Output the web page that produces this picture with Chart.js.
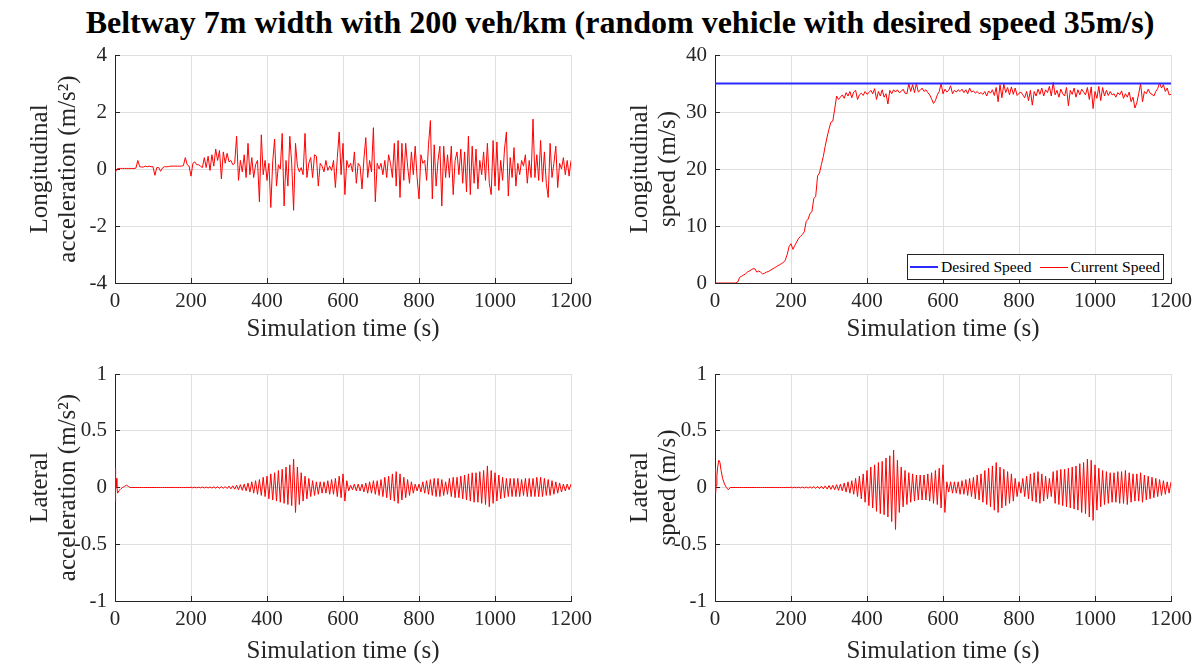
<!DOCTYPE html>
<html>
<head>
<meta charset="utf-8">
<title>Beltway 7m width</title>
<script src="https://cdn.jsdelivr.net/npm/chart.js@4.4.1/dist/chart.umd.min.js"></script>
<style>
  html, body { margin: 0; padding: 0; background: #fff; overflow: hidden; }
  body { width: 1195px; height: 665px; position: relative; font-family: "Liberation Serif", "Times New Roman", serif; }
  #title { position: absolute; left: 0; width: 1240px; top: 4px; text-align: center; font-weight: bold; font-size: 32px; line-height: 36px; color: #000; white-space: nowrap; }
  canvas { position: absolute; }
  #legend { position: absolute; left: 907px; top: 254px; height: 24px; border: 1px solid #262626; background: #fff; display: flex; align-items: center; font-size: 15.6px; color: #000; white-space: nowrap; padding-right: 3px; }
  #legend .item { display: flex; align-items: center; }
  #legend .swatch { display: inline-block; width: 28px; margin: 0 3px 0 2px; }
  #legend .item + .item { margin-left: 6px; }
</style>
</head>
<body>
<div id="title">Beltway 7m width with 200 veh/km (random vehicle with desired speed 35m/s)</div>
<canvas id="accLon" width="607" height="333" style="left:0px;top:25px"></canvas>
<canvas id="speedLon" width="607" height="333" style="left:600px;top:25px"></canvas>
<canvas id="accLat" width="607" height="332" style="left:0px;top:344px"></canvas>
<canvas id="speedLat" width="607" height="332" style="left:600px;top:344px"></canvas>
<div id="legend"></div>
<script>
// sample times: uniform series start at t0 and step dt seconds
const sampleStep = 5;
const xTicks = [0, 200, 400, 600, 800, 1000, 1200];

// longitudinal acceleration (m/s^2), 0..1200 s every 5 s
const accLonValues = [
  -0.15, 0.0, 0.02, 0.02, 0.02, 0.02, 0.02, 0.02, 0.02, 0.02,
  0.02, 0.03, 0.3, 0.08, 0.07, 0.07, 0.1, 0.08, 0.1, 0.08,
  0.08, -0.22, 0.05, 0.05, -0.08, 0.04, 0.08, 0.08, 0.08, 0.1,
  0.1, 0.1, 0.1, 0.1, 0.1, 0.1, 0.12, 0.4, 0.15, 0.1,
  -0.25, 0.2, 0.25, 0.15, 0.15, 0.1, 0.05, 0.4, 0.05, 0.45,
  -0.05, 0.5, 0.1, 0.7, 0.3, 0.65, -0.35, 0.6, 0.2, 0.55,
  0.25, 0.3, 0.15, 0.2, 1.15, -0.4, 0.3, -0.1, 0.5, -0.3,
  0.9, -0.2, 0.4, -0.3, 0.15, 0.3, -1.15, 1.2, -0.2, 0.3,
  -0.4, 0.2, -1.35, 0.25, 1.05, -0.6, 0.15, 0.0, 1.25, -1.3,
  0.3, -0.6, 1.15, 0.2, -1.45, 0.9, 0.1, -0.1, 0.05, -0.2,
  1.25, -0.3, 0.2, 0.4, -0.3, 0.5, 0.45, -0.6, 0.2, 0.1,
  -0.1, 0.3, -0.05, 0.1, -0.05, 0.3, -0.65, 0.4, 1.3, -0.2,
  0.9, -0.9, 0.3, 0.05, 0.2, -0.1, 0.6, -0.5, 0.2, 0.1,
  -0.7, 0.35, 1.1, -0.3, 0.3, -0.1, 1.45, -1.15, 0.2, 0.0,
  0.2, -0.2, 0.3, -0.3, 0.5, 0.2, -0.3, 0.9, -0.6, 1.0,
  -1.0, 0.9, -0.4, 0.9, 0.1, -0.5, 0.6, -0.2, 0.8, -0.3,
  -1.05, 0.5, 0.2, 0.3, -0.4, 0.85, 1.7, -1.05, 0.85, -0.6,
  0.3, 0.8, -1.3, 0.8, -0.3, 0.5, -0.3, 0.8, -0.9, 0.3,
  0.6, -0.2, 0.7, -0.5, 0.6, -0.8, 1.15, -0.9, 0.8, -0.5,
  0.7, -0.7, 0.3, -0.2, 0.6, -0.4, 0.9, -0.5, -0.9, 1.0,
  -0.6, 0.95, -0.75, 0.3, -0.4, 0.7, 1.3, -0.95, 0.4, -0.3,
  0.75, -0.6, 0.2, -0.2, 0.3, 0.1, 0.5, -0.5, 0.3, -0.3,
  1.75, -0.3, 0.5, -0.4, 1.0, -0.45, 0.6, -0.5, -1.0, 0.9,
  -0.3, 0.2, 0.8, -0.65, 0.2, 0.0, 0.4, -0.2, 0.3, -0.25,
  0.3
];

// longitudinal speed (m/s), 0..1200 s every 5 s
const speedValues = [
  0, 0, 0, 0, 0, 0, 0, 0, 0, 0,
  0, 0, 0.2, 1.0, 1.2, 1.4, 1.6, 1.9, 2.1, 2.3,
  2.5, 2.5, 1.9, 2.1, 1.9, 1.6, 1.7, 1.9, 2.0, 2.2,
  2.4, 2.6, 2.8, 3.0, 3.2, 3.4, 3.6, 4.0, 5.0, 6.4,
  6.9, 5.9, 6.6, 7.2, 7.8, 8.2, 8.5, 9.0, 10.8, 11.2,
  12.2, 12.5, 14.8, 15.2, 18.8, 19.3, 20.8, 22.2, 24.0, 25.6,
  27.0, 28.2, 28.4, 30.5, 32.8, 32.2, 32.6, 33.0, 32.4, 33.4,
  32.8, 33.6, 32.5, 33.5, 33.8, 32.2, 33.0, 33.3, 32.9, 33.6,
  33.1, 33.4, 33.8, 33.2, 34.1, 32.2, 33.6, 32.8, 33.9, 32.6,
  33.2, 31.4, 33.8, 33.2, 33.9, 33.5, 33.9, 33.4, 33.6, 34.0,
  33.3, 33.2, 35.0, 33.6, 34.8, 33.4, 35.0, 33.5, 33.8, 34.2,
  33.6, 33.9, 33.4, 33.0, 32.3, 31.5, 32.0, 33.0, 33.6, 35.0,
  33.2, 34.0, 33.5, 33.8, 34.6, 33.2, 33.8, 33.5, 33.9, 33.6,
  34.0, 33.4, 33.9, 33.2, 34.2, 33.5, 33.7, 33.3, 33.6, 33.2,
  33.4, 33.1, 33.6, 32.8, 33.7, 33.3, 33.9, 32.9, 34.3, 31.8,
  34.8, 32.5, 34.9, 33.4, 34.3, 33.0, 34.4, 33.1, 34.2, 32.9,
  33.3, 33.5, 33.0, 32.5, 33.6, 32.0, 33.8, 31.2, 33.6, 32.8,
  34.0, 33.1, 34.2, 32.8, 33.9, 33.4, 34.5, 32.8, 35.2, 33.0,
  33.8, 32.6, 34.0, 33.2, 32.8, 34.3, 31.1, 33.8, 33.1, 34.2,
  32.6, 33.9, 33.0, 34.0, 33.5, 33.0, 34.3, 32.2, 34.4, 30.6,
  33.6, 32.4, 34.5, 32.0, 34.3, 32.8, 33.8, 32.9, 33.6, 33.0,
  33.2, 32.6, 33.4, 33.0, 33.7, 32.4, 33.2, 32.6, 33.5, 31.8,
  32.6, 30.7, 31.6, 33.2, 35.0, 31.8, 33.6, 33.2, 34.0, 33.3,
  33.1, 32.8, 33.6, 34.1, 35.1, 34.2, 34.8, 33.6, 34.2, 33.0,
  33.1
];
const desiredSpeed = 35;

// lateral start transient (explicit times, s)
const latStartTime = [0, 1, 2, 3, 5, 7, 10, 13, 16, 20, 25, 30, 35, 40, 45];
const latAccStart = [0.17, -0.12, 0.02, 0.08, 0.0, -0.05, -0.03, -0.02, -0.01, 0.0, 0.01, 0.02, 0.01, 0.0, 0.0];
const latSpeedStart = [0.0, 0.17, -0.05, 0.02, 0.1, 0.18, 0.24, 0.22, 0.15, 0.08, 0.03, 0.0, -0.02, 0.0, 0.0];

// lateral oscillation, 50..1200 s every 5 s
const latWaveStart = 50;
const latAccWave = [
  0, 0, 0, 0, 0, 0, 0, 0, 0, 0,
  0, 0, 0, 0, 0, 0, 0, 0, 0, 0,
  0.001, -0.001, 0.001, -0.001, 0.001, -0.001, 0.001, -0.001, 0.001, -0.001,
  0.003, -0.003, 0.003, -0.003, 0.003, -0.003, 0.004, -0.004, 0.004, -0.004,
  0.005, -0.005, 0.006, -0.006, 0.007, -0.007, 0.008, -0.008, 0.009, -0.009,
  0.012, -0.012, 0.015, -0.015, 0.02, -0.02, 0.025, -0.025, 0.03, -0.03,
  0.04, -0.04, 0.05, -0.05, 0.06, -0.06, 0.07, -0.07, 0.09, -0.08,
  0.1, -0.1, 0.12, -0.11, 0.13, -0.12, 0.15, -0.13, 0.16, -0.14,
  0.18, -0.15, 0.2, -0.16, 0.25, -0.22, 0.18, -0.15, 0.13, -0.12,
  0.1, -0.1, 0.08, -0.08, 0.06, -0.07, 0.05, -0.06, 0.05, -0.05,
  0.05, -0.05, 0.06, -0.06, 0.07, -0.06, 0.08, -0.08, 0.1, -0.09,
  0.12, -0.12, 0.06, -0.03, 0.02, -0.02, 0.03, -0.03, 0.03, -0.03,
  0.03, -0.04, 0.04, -0.05, 0.05, -0.05, 0.06, -0.06, 0.06, -0.07,
  0.07, -0.08, 0.09, -0.09, 0.1, -0.11, 0.12, -0.12, 0.14, -0.14,
  0.12, -0.11, 0.09, -0.09, 0.07, -0.07, 0.05, -0.05, 0.03, -0.03,
  0.03, -0.04, 0.05, -0.05, 0.06, -0.06, 0.07, -0.07, 0.08, -0.08,
  0.08, -0.08, 0.07, -0.07, 0.05, -0.06, 0.08, -0.08, 0.09, -0.09,
  0.09, -0.09, 0.1, -0.1, 0.11, -0.11, 0.12, -0.12, 0.13, -0.13,
  0.13, -0.13, 0.14, -0.14, 0.15, -0.15, 0.19, -0.17, 0.15, -0.14,
  0.13, -0.12, 0.11, -0.1, 0.09, -0.09, 0.08, -0.08, 0.08, -0.08,
  0.08, -0.08, 0.08, -0.08, 0.07, -0.07, 0.08, -0.08, 0.08, -0.08,
  0.08, -0.08, 0.09, -0.08, 0.09, -0.08, 0.08, -0.07, 0.07, -0.07,
  0.06, -0.06, 0.05, -0.05, 0.04, -0.04, 0.03, -0.03, 0.03, -0.02,
  0.03
];
const latSpeedWave = [
  0, 0, 0, 0, 0, 0, 0, 0, 0, 0,
  0, 0, 0, 0, 0, 0, 0, 0, 0, 0,
  0.001, -0.001, 0.001, -0.001, 0.001, -0.001, 0.001, -0.001, 0.001, -0.001,
  0.003, -0.003, 0.003, -0.003, 0.003, -0.003, 0.004, -0.004, 0.005, -0.005,
  0.006, -0.006, 0.008, -0.008, 0.01, -0.01, 0.012, -0.012, 0.014, -0.014,
  0.017, -0.017, 0.02, -0.02, 0.025, -0.025, 0.03, -0.03, 0.04, -0.04,
  0.05, -0.05, 0.06, -0.06, 0.08, -0.08, 0.1, -0.1, 0.12, -0.13,
  0.15, -0.16, 0.18, -0.18, 0.2, -0.21, 0.22, -0.23, 0.23, -0.24,
  0.26, -0.26, 0.28, -0.3, 0.33, -0.37, 0.24, -0.22, 0.18, -0.17,
  0.15, -0.15, 0.13, -0.13, 0.12, -0.12, 0.11, -0.11, 0.11, -0.11,
  0.11, -0.11, 0.12, -0.12, 0.13, -0.14, 0.15, -0.15, 0.17, -0.18,
  0.2, -0.22, 0.05, -0.04, 0.05, -0.05, 0.05, -0.05, 0.05, -0.06,
  0.06, -0.06, 0.07, -0.07, 0.08, -0.08, 0.09, -0.1, 0.11, -0.11,
  0.12, -0.13, 0.15, -0.15, 0.17, -0.17, 0.19, -0.2, 0.22, -0.22,
  0.18, -0.18, 0.16, -0.16, 0.14, -0.14, 0.12, -0.12, 0.08, -0.08,
  0.05, -0.05, 0.08, -0.08, 0.1, -0.1, 0.12, -0.12, 0.13, -0.13,
  0.14, -0.14, 0.12, -0.12, 0.1, -0.1, 0.08, -0.08, 0.14, -0.14,
  0.15, -0.15, 0.16, -0.16, 0.16, -0.17, 0.17, -0.18, 0.18, -0.19,
  0.19, -0.2, 0.21, -0.22, 0.22, -0.23, 0.25, -0.26, 0.24, -0.29,
  0.2, -0.2, 0.17, -0.17, 0.15, -0.15, 0.14, -0.14, 0.13, -0.13,
  0.13, -0.13, 0.14, -0.14, 0.14, -0.14, 0.15, -0.15, 0.13, -0.13,
  0.12, -0.12, 0.12, -0.12, 0.13, -0.13, 0.11, -0.11, 0.1, -0.1,
  0.09, -0.09, 0.08, -0.08, 0.07, -0.07, 0.06, -0.06, 0.05, -0.05,
  0.05
];

const FONT = '"Liberation Serif", "Times New Roman", serif';
const AXIS_COLOR = '#262626';
const GRID_COLOR = '#dfdfdf';

function uniform(t0, values) {
  return values.map((v, i) => ({ x: t0 + i * sampleStep, y: v }));
}
function paired(times, values) {
  return times.map((t, i) => ({ x: t, y: values[i] }));
}

function axisBase() {
  return {
    border: { display: true, color: AXIS_COLOR, width: 1 },
    grid: { color: GRID_COLOR, lineWidth: 1, drawTicks: true, tickLength: -5, tickColor: AXIS_COLOR, tickWidth: 1 },
  };
}

// plain tick text, no thousands separator or forced decimals
const plainTick = (v) => String(v);

function makeChart(id, datasets, yRange, yTitle, xTitlePad) {
  return new Chart(document.getElementById(id), {
    type: 'line',
    data: { datasets: datasets },
    options: {
      responsive: false,
      animation: false,
      events: [],
      layout: { padding: { top: 30, right: 36, left: 0, bottom: 0 } },
      elements: { point: { radius: 0 }, line: { tension: 0, borderWidth: 1 } },
      plugins: { legend: { display: false }, tooltip: { enabled: false } },
      scales: {
        x: {
          ...axisBase(),
          type: 'linear',
          min: 0,
          max: 1200,
          afterBuildTicks: (scale) => { scale.ticks = xTicks.map((v) => ({ value: v })); },
          afterFit: (scale) => { scale.height = 75; },
          ticks: { autoSkip: false, maxRotation: 0, padding: 11, color: AXIS_COLOR, font: { family: FONT, size: 21 }, callback: plainTick },
          title: { display: true, text: 'Simulation time (s)', color: AXIS_COLOR, font: { family: FONT, size: 25 }, padding: { top: 0, bottom: xTitlePad } },
        },
        y: {
          ...axisBase(),
          type: 'linear',
          min: yRange[0],
          max: yRange[1],
          afterFit: (scale) => { scale.width = 115; },
          ticks: { stepSize: yRange[2], padding: 13, color: AXIS_COLOR, font: { family: FONT, size: 21 }, callback: plainTick },
          title: { display: true, text: yTitle, color: AXIS_COLOR, font: { family: FONT, size: 25, lineHeight: '28px' }, padding: { top: 26, bottom: 0 } },
        },
      },
    },
  });
}

const RED = '#ff0000';
const BLUE = '#2a2aff';

makeChart('accLon', [
  { label: 'Longitudinal acceleration', data: uniform(0, accLonValues), borderColor: RED },
], [-4, 4, 2], ['Longitudinal', 'acceleration (m/s\u00b2)'], 14);

const speedChart = makeChart('speedLon', [
  { label: 'Desired Speed', data: [{ x: 0, y: desiredSpeed }, { x: 1200, y: desiredSpeed }], borderColor: BLUE, borderWidth: 2 },
  { label: 'Current Speed', data: uniform(0, speedValues), borderColor: RED },
], [0, 40, 10], ['Longitudinal', 'speed (m/s)'], 14);

makeChart('accLat', [
  { label: 'Lateral acceleration', data: paired(latStartTime, latAccStart).concat(uniform(latWaveStart, latAccWave)), borderColor: RED },
], [-1, 1, 0.5], ['Lateral', 'acceleration (m/s\u00b2)'], 10);

makeChart('speedLat', [
  { label: 'Lateral speed', data: paired(latStartTime, latSpeedStart).concat(uniform(latWaveStart, latSpeedWave)), borderColor: RED },
], [-1, 1, 0.5], ['Lateral', 'speed (m/s)'], 10);

// legend inside the speed axes, built from the chart's datasets
const legendBox = document.getElementById('legend');
speedChart.data.datasets.forEach((ds) => {
  const item = document.createElement('span');
  item.className = 'item';
  const sw = document.createElement('span');
  sw.className = 'swatch';
  sw.style.height = (ds.borderWidth || 1) + 'px';
  sw.style.backgroundColor = ds.borderColor;
  item.appendChild(sw);
  item.appendChild(document.createTextNode(ds.label));
  legendBox.appendChild(item);
});
</script>
</body>
</html>
